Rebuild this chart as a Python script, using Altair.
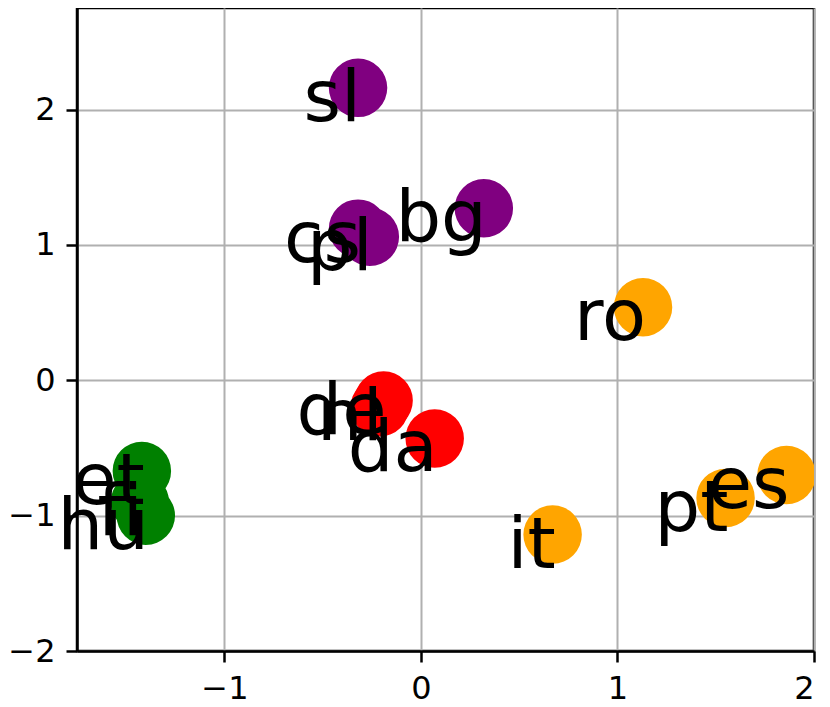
import altair as alt
import pandas as pd

langs = ["sl", "cs", "pl", "bg", "ro", "de", "nl", "da", "et", "fi", "hu", "it", "pt", "es"]
xs = [-0.32, -0.32, -0.26, 0.32, 1.13, -0.19, -0.21, 0.07, -1.42, -1.43, -1.40, 0.67, 1.55, 1.86]
ys = [2.16, 1.12, 1.06, 1.27, 0.54, -0.15, -0.20, -0.43, -0.67, -0.90, -1.00, -1.14, -0.87, -0.70]
colors = ["purple", "purple", "purple", "purple", "orange", "red", "red", "red",
          "green", "green", "green", "orange", "orange", "orange"]

x_ticks = [-1, 0, 1, 2]
y_ticks = [-2, -1, 0, 1, 2]

df = pd.DataFrame({"lang": langs, "x": xs, "y": ys, "color": colors})

label_expr = "replace(datum.label, '-', '\u2212')"

x_enc = alt.X("x:Q", scale=alt.Scale(domain=[-1.75, 2.0], nice=False, zero=False),
              axis=alt.Axis(values=x_ticks, title=None, labelExpr=label_expr))
y_enc = alt.Y("y:Q", scale=alt.Scale(domain=[-2.0, 2.75], nice=False, zero=False),
              axis=alt.Axis(values=y_ticks, title=None, labelExpr=label_expr))

points = alt.Chart(df).mark_circle(size=3421, opacity=1, clip=True).encode(
    x=x_enc, y=y_enc,
    color=alt.Color("color:N", scale=None),
)

labels = alt.Chart(df).mark_text(
    align="right", baseline="alphabetic", dx=3, dy=33,
    fontSize=72, font="DejaVu Sans", color="black",
).encode(x=x_enc, y=y_enc, text="lang:N")

chart = (points + labels).properties(
    width=737, height=643,
    autosize=alt.AutoSizeParams(type="none"),
    padding={"left": 69, "top": 0, "right": 8, "bottom": 48},
).configure_view(
    stroke="black", strokeWidth=2.5,
).configure_axis(
    domainColor="black", domainWidth=2.5,
    tickColor="black", tickWidth=2.5, tickSize=11,
    grid=True, gridColor="#b0b0b0", gridWidth=2,
    labelFont="DejaVu Sans", labelFontSize=32, labelColor="black",
    labelPadding=11,
)

chart.save("out.html", embed_options={"renderer": "svg", "actions": False})
